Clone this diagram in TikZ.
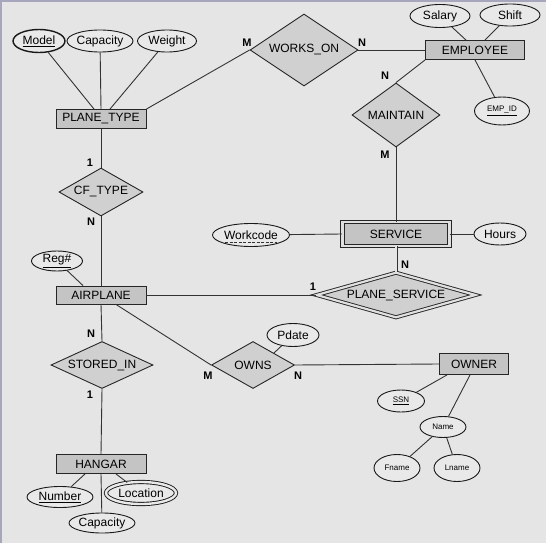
\documentclass[tikz,border=0pt]{standalone}
\usepackage{fontspec}
\setmainfont{Liberation Sans}
\usetikzlibrary{shapes.geometric}
\definecolor{bgcol}{HTML}{E5E5E5}
\definecolor{entcol}{HTML}{C4C4C4}
\definecolor{relcol}{HTML}{D0D0D0}
\definecolor{attcol}{HTML}{E9E9E9}
\definecolor{linecol}{HTML}{333333}
\definecolor{framecol}{HTML}{A6A6BC}

\begin{document}
\begin{tikzpicture}[x=1pt, y=-1pt, line width=0.9pt, draw=linecol,
    every node/.style={font=\fontsize{12}{14}\selectfont, inner sep=0pt},
    entity/.style={draw=black!85, fill=entcol, minimum width=90pt, minimum height=19pt},
    relation/.style={diamond, draw=black!85, fill=relcol},
    attrib/.style={ellipse, draw=black!90, fill=attcol},
    smallattrib/.style={attrib, font=\fontsize{8}{10}\selectfont},
    card/.style={font=\fontsize{11}{13}\selectfont\bfseries}]
    \fill [bgcol] (0,0) rectangle (546,543);
    \fill [framecol] (0,0) rectangle (546,2);
    \fill [framecol] (0,0) rectangle (2,543);

    \node (ptype) [entity] at (101,119) {PLANE\_TYPE};
    \node (emp) [entity, minimum width=99pt] at (475,50) {EMPLOYEE};
    \node (service) [entity, minimum width=107pt, minimum height=24pt, double=black!12, double distance=2.4pt] at (396,234) {SERVICE};
    \node (air) [entity, minimum height=18pt] at (101,295) {AIRPLANE};
    \node (owner) [entity, minimum width=69pt, minimum height=21pt] at (474,364) {OWNER};
    \node (hangar) [entity] at (101,464) {HANGAR};

    \node (works) [relation, aspect=1.5, minimum width=108pt, minimum height=72pt] at (304,50) {WORKS\_ON};
    \node (maintain) [relation, aspect=1.375, minimum width=88pt, minimum height=64pt] at (396,115) {MAINTAIN};
    \node (cftype) [relation, aspect=1.75, minimum width=84pt, minimum height=48pt] at (101,192) {CF\_TYPE};
    \node (stored) [relation, aspect=2.17, minimum width=102pt, minimum height=47pt] at (102,365) {STORED\_IN};
    \node (owns) [relation, aspect=1.77, minimum width=83pt, minimum height=47pt] at (253,365) {OWNS};
    \node (pserv) [relation, aspect=3.3, minimum width=159pt, minimum height=45pt, double=black!12, double distance=2.2pt] at (396,295) {PLANE\_SERVICE};

    \node (model) [attrib, line width=1.4pt, minimum width=52pt, minimum height=23pt] at (39,41) {\underline{Model}};
    \node (cap1) [attrib, minimum width=65pt, minimum height=22pt] at (100,41) {Capacity};
    \node (weight) [attrib, minimum width=59pt, minimum height=22pt] at (167,41) {Weight};
    \node (salary) [attrib, minimum width=60pt, minimum height=23pt] at (440,16) {Salary};
    \node (shift) [attrib, minimum width=60pt, minimum height=22pt] at (510,15) {Shift};
    \node (empid) [smallattrib, minimum width=55pt, minimum height=28pt] at (502,111) {\underline{EMP\_ID}};
    \node (wcode) [attrib, minimum width=77pt, minimum height=23pt] at (251,235) {Workcode};
    \node (hours) [attrib, minimum width=52pt, minimum height=22pt] at (500,234) {Hours};
    \node (reg) [attrib, minimum width=51pt, minimum height=20pt] at (57,261) {\underline{Reg\#}};
    \node (pdate) [attrib, minimum width=52pt, minimum height=23pt] at (293,335) {Pdate};
    \node (ssn) [smallattrib, minimum width=47pt, minimum height=22pt] at (401,401) {\underline{SSN}};
    \node (name) [smallattrib, minimum width=46pt, minimum height=21pt] at (443,427) {Name};
    \node (fname) [smallattrib, minimum width=46pt, minimum height=27pt] at (397,468) {Fname};
    \node (lname) [smallattrib, minimum width=46pt, minimum height=27pt] at (457,468) {Lname};
    \node (number) [attrib, minimum width=66pt, minimum height=21pt] at (60,497) {\underline{Number}};
    \node (loc) [attrib, minimum width=70pt, minimum height=22pt, double=attcol, double distance=2.4pt] at (141,493) {Location};
    \node (cap2) [attrib, minimum width=65pt, minimum height=20pt] at (102,523) {Capacity};

    \draw [dashed, line width=0.6pt, dash pattern=on 3pt off 1.5pt] ([shift={(-26,7)}]wcode.center) -- ([shift={(26,7)}]wcode.center);

    \draw (model) -- ([xshift=-7pt]ptype.north);
    \draw (cap1) -- (ptype.north);
    \draw (weight) -- ([xshift=9pt]ptype.north);
    \draw (ptype.north east) -- (works.west);
    \draw (works.east) -- (emp.west);
    \draw (salary) -- ([xshift=-9pt]emp.north);
    \draw (shift) -- ([xshift=10pt]emp.north);
    \draw (emp.south) -- (empid);
    \draw (emp.south west) -- (maintain.north);
    \draw (maintain.south) -- (service.north);
    \draw (wcode) -- (service.west);
    \draw (service.east) -- (hours);
    \draw [double=bgcol, double distance=1.6pt, line width=0.7pt] (service.south) -- (pserv.north);
    \draw (air.east) -- (pserv.west);
    \draw (ptype.south) -- (cftype.north);
    \draw (cftype.south) -- (air.north);
    \draw (reg) -- ([xshift=-18pt]air.north);
    \draw (air.south) -- (stored.north);
    \draw (stored.south) -- (hangar.north);
    \draw ([xshift=15pt]air.south) -- (owns.west);
    \draw (owns.east) -- (owner.west);
    \draw (pdate) -- (owns.north east);
    \draw ([xshift=-16pt]hangar.south) -- (number);
    \draw (hangar.south) -- (cap2);
    \draw ([xshift=15pt]hangar.south) -- (loc);
    \draw ([xshift=-27pt]owner.south) -- (ssn);
    \draw ([xshift=-4pt]owner.south) -- (name);
    \draw (name) -- (fname);
    \draw (name) -- (lname);

    \node (cwm) [card] at (247,43) {M};
    \node (cwn) [card] at (362,43) {N};
    \node (cmn) [card] at (385,76) {N};
    \node (cmm) [card] at (385,155) {M};
    \node (ccone) [card] at (90,163) {1};
    \node (ccn) [card] at (91,222) {N};
    \node (cpn) [card] at (405,265) {N};
    \node (cpone) [card] at (313,287) {1};
    \node (csn) [card] at (91,334) {N};
    \node (csone) [card] at (90,395) {1};
    \node (com) [card] at (208,376) {M};
    \node (con) [card] at (298,376) {N};
\end{tikzpicture}
\end{document}
